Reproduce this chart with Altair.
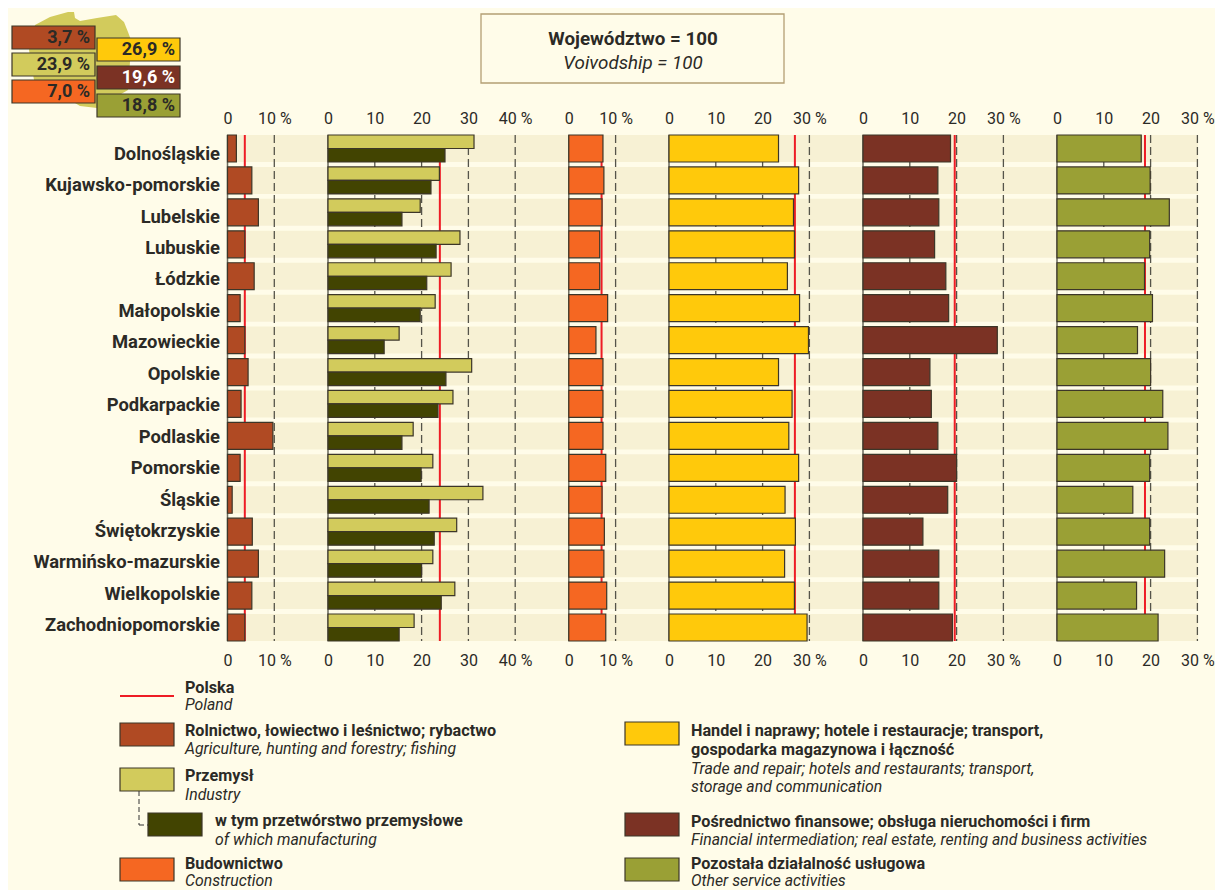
import altair as alt
import pandas as pd

REGIONS = ["Dolnośląskie", "Kujawsko-pomorskie", "Lubelskie", "Lubuskie", "Łódzkie", "Małopolskie",
           "Mazowieckie", "Opolskie", "Podkarpackie", "Podlaskie", "Pomorskie", "Śląskie",
           "Świętokrzyskie", "Warmińsko-mazurskie", "Wielkopolskie", "Zachodniopomorskie"]
AGRI = [1.9, 5.2, 6.6, 3.7, 5.7, 2.7, 3.7, 4.4, 2.9, 9.7, 2.7, 1.0, 5.3, 6.6, 5.2, 3.7]
INDUSTRY = [31.2, 23.8, 19.7, 28.2, 26.3, 22.9, 15.2, 30.7, 26.7, 18.2, 22.4, 33.1, 27.5, 22.4, 27.1, 18.4]
MANUF = [25.0, 22.0, 15.8, 23.1, 21.1, 19.7, 12.0, 25.2, 23.5, 15.8, 19.9, 21.6, 22.7, 20.0, 24.2, 15.2]
CONSTR = [7.3, 7.5, 7.1, 6.6, 6.6, 8.3, 5.8, 7.3, 7.3, 7.3, 7.9, 7.1, 7.6, 7.5, 8.1, 7.9]
TRADE = [23.4, 27.7, 26.6, 26.8, 25.3, 27.9, 29.8, 23.4, 26.3, 25.6, 27.7, 24.8, 27.0, 24.7, 26.8, 29.5]
FINANCE = [18.7, 16.0, 16.2, 15.3, 17.7, 18.3, 28.7, 14.3, 14.6, 16.0, 20.0, 18.1, 12.8, 16.2, 16.2, 19.1]
OTHER = [18.0, 19.9, 24.0, 19.8, 18.7, 20.4, 17.2, 20.0, 22.6, 23.7, 19.8, 16.2, 19.8, 23.0, 17.0, 21.6]
POLAND = [3.7, 23.9, 7.0, 26.9, 19.6, 18.8]
POLAND_LABELS_LEFT = ["3,7 %", "23,9 %", "7,0 %"]
POLAND_LABELS_RIGHT = ["26,9 %", "19,6 %", "18,8 %"]
TICKS = [[0, 10], [0, 10, 20, 30, 40], [0, 10], [0, 10, 20, 30], [0, 10, 20, 30], [0, 10, 20, 30]]

C_AGRI, C_IND, C_MAN, C_CON, C_TRA, C_FIN, C_OTH = ("#b04a23", "#d2cb5c", "#424401", "#f56722",
                                                    "#ffc90b", "#7b3224", "#9aa035")
BG, BAND, INK, EDGE, RED = "#fffce9", "#f7f1d4", "#2b2a26", "#3c3628", "#ee1c25"
FONT = "Roboto"
PX_PER_UNIT = 4.68
ORIGINS = [227.5, 328, 568.8, 669, 863, 1057]


def X(p):  # page pixel to chart pixel
    return p - 8


def yscale(top=135, bottom=641):
    return alt.Scale(domain=REGIONS, range=[X(top), X(bottom)], paddingInner=0.155, paddingOuter=0)


def xscale(i):
    o = ORIGINS[i]
    last = TICKS[i][-1]
    return alt.Scale(domain=[0, last], range=[X(o), X(o + last * PX_PER_UNIT)], nice=False, zero=False)


one = pd.DataFrame({"a": [0]})
layers = []

# row bands and region labels
region_df = pd.DataFrame({"region": REGIONS})
layers.append(
    alt.Chart(region_df).mark_rect(color=BAND).encode(
        y=alt.Y("region:N", sort=None, scale=yscale(), title=None, axis=None),
        x=alt.value(X(227)), x2=alt.value(X(1198)))
)
layers.append(
    alt.Chart(region_df).mark_text(font=FONT, fontSize=18.4, fontWeight="bold", color=INK, align="right",
                                   baseline="middle").encode(
        y=alt.Y("region:N", sort=None, scale=yscale(138, 641), title=None, axis=None),
        x=alt.value(X(220)), text="region:N")
)


def axis(i, orient):
    last = TICKS[i][-1]
    return alt.Axis(orient=orient, offset=-X(135) if orient == "top" else -(882 - X(641)),
                    values=TICKS[i], labelPadding=9 if orient == "top" else 11, ticks=False, domain=False, grid=False,
                    labelFont=FONT, labelFontSize=16, labelColor=INK, labelFlush=False,
                    labelOverlap=False, labelExpr=f"datum.value == {last} ? datum.label + ' %' : datum.label")


def guide_layers(i):
    dashes = [t for t in TICKS[i] if t > 0]
    zero_rule = alt.Chart(pd.DataFrame({"v": [0]})).mark_rule(color="#6a6a5c", strokeWidth=1.5).encode(
        x=alt.X("v:Q", scale=xscale(i), title=None, axis=axis(i, "top")),
        y=alt.value(X(135)), y2=alt.value(X(641)))
    dash_rule = alt.Chart(pd.DataFrame({"v": dashes})).mark_rule(
        color="#55544a", strokeWidth=1.3, strokeDash=[8, 4]).encode(
        x=alt.X("v:Q", scale=xscale(i), title=None, axis=axis(i, "bottom")),
        y=alt.value(X(135)), y2=alt.value(X(641)))
    red_rule = alt.Chart(pd.DataFrame({"v": [POLAND[i]]})).mark_rule(
        color=RED, strokeWidth=2).encode(
        x=alt.X("v:Q", scale=xscale(i), title=None, axis=None),
        y=alt.value(X(135)), y2=alt.value(X(641)))
    return [zero_rule, dash_rule, red_rule]


def bars(i, values, color):
    return alt.Chart(pd.DataFrame({"region": REGIONS, "v": values})).mark_bar(
        color=color, stroke=EDGE, strokeWidth=1.2).encode(
        x=alt.X("v:Q", stack=None, scale=xscale(i), title=None, axis=None),
        y=alt.Y("region:N", sort=None, scale=yscale(), title=None, axis=None))


SIMPLE = {0: (AGRI, C_AGRI), 2: (CONSTR, C_CON), 3: (TRADE, C_TRA), 4: (FINANCE, C_FIN), 5: (OTHER, C_OTH)}
for i in range(6):
    layers += guide_layers(i)
    if i == 1:
        d = pd.DataFrame({"region": REGIONS * 2, "v": INDUSTRY + MANUF,
                          "series": ["Przemysł"] * 16 + ["w tym"] * 16})
        layers.append(
            alt.Chart(d).mark_bar(stroke=EDGE, strokeWidth=1.2).encode(
                x=alt.X("v:Q", stack=None, scale=xscale(1), title=None, axis=None),
                y=alt.Y("region:N", sort=None, scale=yscale(), title=None, axis=None),
                yOffset=alt.YOffset("series:N", sort=["Przemysł", "w tym"]),
                color=alt.Color("series:N", legend=None,
                                scale=alt.Scale(domain=["Przemysł", "w tym"], range=[C_IND, C_MAN])))
        )
    else:
        layers.append(bars(i, *SIMPLE[i]))


def text(s, x, y, size=16.2, bold=True, italic=False, align="left", color=INK):
    kw = dict(font=FONT, fontSize=size, align=align, baseline="middle", color=color)
    if bold:
        kw["fontWeight"] = "bold"
    if italic:
        kw["fontStyle"] = "italic"
    return alt.Chart(pd.DataFrame({"t": [s]})).mark_text(**kw).encode(
        x=alt.value(X(x)), y=alt.value(X(y)), text="t:N")


def box(x0, y0, x1, y1, fill, stroke=EDGE, sw=1.2):
    return alt.Chart(one).mark_rect(color=fill, stroke=stroke, strokeWidth=sw).encode(
        x=alt.value(X(x0)), x2=alt.value(X(x1)), y=alt.value(X(y0)), y2=alt.value(X(y1)))


# Poland silhouette (custom symbol, drawn in chart pixels)
POLAND_OUTLINE = "M27 17L42 9L60 4L66 4L67 10L72 13L89 10L108 7L116 14L120 24L123 32L122 54L120 82L89 100L72 98L67 95L26 72L21 42Z"
layers.append(alt.Chart(one).mark_point(shape=POLAND_OUTLINE, size=4, filled=True, fill=C_IND, strokeWidth=0, opacity=1).encode(
    x=alt.value(0), y=alt.value(0)))

for k, (lab, col) in enumerate(zip(POLAND_LABELS_LEFT, [C_AGRI, C_IND, C_CON])):
    top = 26 + 27 * k
    layers += [box(12, top, 95, top + 23, col), text(lab, 90, top + 12, size=18, align="right")]
for k, (lab, col, tc) in enumerate(zip(POLAND_LABELS_RIGHT, [C_TRA, C_FIN, C_OTH], [INK, "#ffffff", INK])):
    top = 38 + 28 * k
    layers += [box(97, top, 180, top + 23, col), text(lab, 175, top + 12, size=18, align="right", color=tc)]

# title box
layers += [box(481, 14, 784, 83, BG, stroke="#b49f74", sw=1.3),
           text("Województwo = 100", 633, 39, size=18.8, align="center"),
           text("Voivodship = 100", 633, 63, size=18.8, bold=False, italic=True, align="center")]

# key
layers.append(alt.Chart(one).mark_rule(color=RED, strokeWidth=2).encode(
    x=alt.value(X(120)), x2=alt.value(X(174)), y=alt.value(X(696))))
layers.append(alt.Chart(one).mark_rule(color="#333", strokeWidth=1, strokeDash=[5, 3]).encode(
    x=alt.value(X(139)), y=alt.value(X(791)), y2=alt.value(X(825))))
layers.append(alt.Chart(one).mark_rule(color="#333", strokeWidth=1, strokeDash=[5, 3]).encode(
    x=alt.value(X(139)), x2=alt.value(X(148)), y=alt.value(X(825))))
layers += [box(120, 723, 174, 746, C_AGRI), box(120, 768, 174, 791, C_IND), box(148, 813, 202, 836, C_MAN),
           box(120, 858, 174, 881, C_CON), box(625, 722, 679, 745, C_TRA), box(625, 813, 679, 836, C_FIN),
           box(625, 858, 679, 881, C_OTH)]
KEY = [("Polska", 185, 688, True), ("Poland", 185, 705, False),
       ("Rolnictwo, łowiectwo i leśnictwo; rybactwo", 185, 731, True),
       ("Agriculture, hunting and forestry; fishing", 185, 749, False),
       ("Przemysł", 185, 776, True), ("Industry", 185, 795, False),
       ("w tym przetwórstwo przemysłowe", 215, 821, True), ("of which manufacturing", 215, 840, False),
       ("Budownictwo", 185, 864, True), ("Construction", 185, 881, False),
       ("Handel i naprawy; hotele i restauracje; transport,", 691, 731, True),
       ("gospodarka magazynowa i łączność", 691, 750, True),
       ("Trade and repair; hotels and restaurants; transport,", 691, 769, False),
       ("storage and communication", 691, 787, False),
       ("Pośrednictwo finansowe; obsługa nieruchomości i firm", 691, 822, True),
       ("Financial intermediation; real estate, renting and business activities", 691, 840, False),
       ("Pozostała działalność usługowa", 691, 864, True), ("Other service activities", 691, 881, False)]
for s, x, y, b in KEY:
    layers.append(text(s, x, y, size=16.2 if b else 15.8, bold=b, italic=not b))

chart = alt.layer(*layers).resolve_scale(x="independent", y="independent").resolve_axis(x="independent").properties(
    width=1207, height=882, padding=0, background=BG,
    autosize=alt.AutoSizeParams(type="none")
).configure_view(stroke=None)

chart.save("out.html", embed_options={"renderer": "svg", "actions": False})
